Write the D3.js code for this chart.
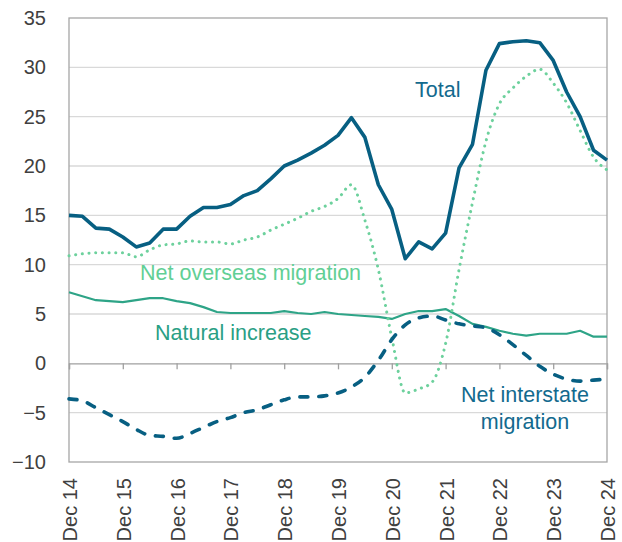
<!DOCTYPE html>
<html>
<head>
<meta charset="utf-8">
<script src="https://cdn.jsdelivr.net/npm/d3@7"></script>
<style>
  html, body { margin: 0; padding: 0; background: #fff; }
  svg { display: block; font-family: "Liberation Sans", Arial, sans-serif; }
</style>
</head>
<body>
<svg id="chart" width="622" height="542"></svg>
<script>
// Quarterly, Dec 14 .. Dec 24 (41 points)
const quarters = d3.range(41);
const yearLabels = ["Dec 14","Dec 15","Dec 16","Dec 17","Dec 18","Dec 19","Dec 20","Dec 21","Dec 22","Dec 23","Dec 24"];
const yTicks = [-10, -5, 0, 5, 10, 15, 20, 25, 30, 35];

const total = [15.0,14.9,13.7,13.6,12.8,11.8,12.2,13.6,13.6,14.9,15.8,15.8,16.1,17.0,17.5,18.7,20.0,20.6,21.3,22.1,23.1,24.9,22.9,18.1,15.6,10.6,12.3,11.6,13.2,19.8,22.2,29.7,32.4,32.6,32.7,32.5,30.7,27.5,25.0,21.6,20.6];
const netOverseas = [10.9,11.1,11.2,11.2,11.2,10.8,11.5,12.0,12.1,12.4,12.3,12.3,12.1,12.5,12.8,13.5,14.1,14.7,15.4,15.9,16.7,18.1,14.5,9.5,2.6,-3.0,-2.6,-1.9,2.0,9.5,16.3,22.5,26.3,27.9,29.1,29.8,28.4,26.4,23.6,20.9,19.6];
const naturalIncrease = [7.2,6.8,6.4,6.3,6.2,6.4,6.6,6.6,6.3,6.1,5.7,5.2,5.1,5.1,5.1,5.1,5.3,5.1,5.0,5.2,5.0,4.9,4.8,4.7,4.5,5.0,5.3,5.3,5.5,4.8,4.0,3.7,3.3,3.0,2.8,3.0,3.0,3.0,3.3,2.7,2.7];
const netInterstate = [-3.6,-3.8,-4.5,-5.2,-5.9,-6.7,-7.3,-7.4,-7.6,-7.1,-6.5,-5.9,-5.5,-5.0,-4.7,-4.2,-3.7,-3.4,-3.4,-3.3,-3.0,-2.4,-1.4,0.3,2.4,3.9,4.6,4.8,4.4,4.0,3.8,3.6,2.9,1.9,0.8,-0.3,-1.1,-1.6,-1.8,-1.7,-1.6];

const W = 622, H = 542;
const margin = {left: 69, right: 15, top: 18, bottom: 80};
const svg = d3.select("#chart");

const x = d3.scaleLinear().domain([0, 40]).range([margin.left, W - margin.right]);
const y = d3.scaleLinear().domain([-10, 35]).range([H - margin.bottom, margin.top]);

const textCol = "#404040";
const cTotal = "#075f82";
const cNOM = "#6dd19d";
const cNat = "#2ea487";

// gridlines
svg.append("g")
  .selectAll("line").data(yTicks.filter(d => d !== 0 && d !== -10 && d !== 35)).join("line")
  .attr("x1", x(0)).attr("x2", x(40))
  .attr("y1", d => y(d)).attr("y2", d => y(d))
  .attr("stroke", "#d9d9d9").attr("stroke-width", 1.3);

// frame
svg.append("rect")
  .attr("x", x(0)).attr("y", y(35))
  .attr("width", x(40) - x(0)).attr("height", y(-10) - y(35))
  .attr("fill", "none").attr("stroke", "#a6a6a6").attr("stroke-width", 1.3);

// zero axis with ticks
const xAxis = d3.axisBottom(x)
  .tickValues(d3.range(0, 41, 4))
  .tickSize(6)
  .tickFormat("");
const zeroG = svg.append("g").attr("transform", `translate(0,${y(0)})`).call(xAxis);
zeroG.select(".domain").attr("stroke", "#a0a0a0").attr("stroke-width", 1.3);
zeroG.selectAll(".tick line").attr("stroke", "#a0a0a0").attr("stroke-width", 1.3);

// y axis labels
const yAxis = d3.axisLeft(y).tickValues(yTicks).tickSize(0).tickPadding(23);
const yG = svg.append("g").attr("transform", `translate(${x(0)},0)`).call(yAxis);
yG.select(".domain").remove();
yG.selectAll("text")
  .attr("font-size", "20px")
  .attr("font-family", "'Liberation Sans', Arial, sans-serif")
  .attr("fill", textCol);

// x labels (rotated)
svg.append("g").selectAll("text").data(d3.range(0, 41, 4)).join("text")
  .attr("transform", d => `translate(${x(d) + 8},${y(-10) + 16}) rotate(-90)`)
  .attr("text-anchor", "end")
  .attr("font-size", "20px")
  .attr("fill", textCol)
  .text((d, i) => yearLabels[i]);

// lines
const line = d3.line().x((d, i) => x(i)).y(d => y(d));
const smooth = d3.line().x((d, i) => x(i)).y(d => y(d)).curve(d3.curveMonotoneX);

svg.append("path").datum(naturalIncrease)
  .attr("d", line).attr("fill", "none")
  .attr("stroke", cNat).attr("stroke-width", 2.2).attr("stroke-linejoin", "round");

svg.append("path").datum(netOverseas)
  .attr("d", smooth).attr("fill", "none")
  .attr("stroke", cNOM).attr("stroke-width", 3)
  .attr("stroke-linecap", "round").attr("stroke-dasharray", "0.1 6.6");

svg.append("path").datum(netInterstate)
  .attr("d", smooth).attr("fill", "none")
  .attr("stroke", cTotal).attr("stroke-width", 3.6)
  .attr("stroke-linecap", "round").attr("stroke-dasharray", "8 11");

svg.append("path").datum(total)
  .attr("d", line).attr("fill", "none")
  .attr("stroke", cTotal).attr("stroke-width", 3.6).attr("stroke-linejoin", "round");

// series labels
const labels = [
  {t: "Total", x: 415, y: 97, c: "#136a8e", a: "start"},
  {t: "Net overseas migration", x: 140, y: 280, c: "#62cf95", a: "start"},
  {t: "Natural increase", x: 155, y: 340, c: "#2a9f85", a: "start"},
  {t: "Net interstate", x: 525, y: 402, c: "#136a8e", a: "middle"},
  {t: "migration", x: 525, y: 429, c: "#136a8e", a: "middle"}
];
svg.append("g").selectAll("text").data(labels).join("text")
  .attr("x", d => d.x).attr("y", d => d.y)
  .attr("text-anchor", d => d.a)
  .attr("font-size", "21.5px")
  .attr("fill", d => d.c)
  .text(d => d.t);
</script>
</body>
</html>
